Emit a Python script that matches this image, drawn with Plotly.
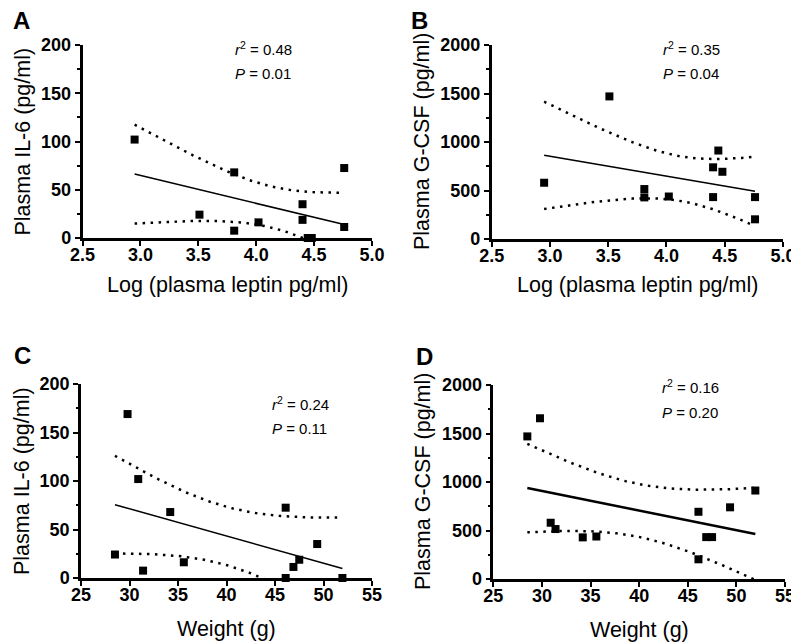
import numpy as np
import plotly.graph_objects as go

# ---- data (one entry per mouse) ----
weight_g = [28.5, 29.8, 30.9, 31.4, 34.2, 35.6, 46.1, 46.1, 46.9, 47.5, 49.35, 51.95]
log_leptin = [3.51, None, 2.95, 3.81, 3.81, 4.02, 4.76, 4.48, 4.76, 4.40, 4.40, 4.445]
il6_pg_ml = [24.2, 169, 102, 7.6, 68, 16.2, 72.5, 0, 11.4, 18.8, 35, 0]
gcsf_pg_ml = [1470, 1657, 580, 515, 429, 438, 203, 693, 432, 432, 739, 912]

panel_letters = ["A", "B", "C", "D"]
stats_r2 = ["0.48", "0.35", "0.24", "0.16"]
stats_p = ["0.01", "0.04", "0.11", "0.20"]
x_titles = ["Log (plasma leptin pg/ml)", "Log (plasma leptin pg/ml)", "Weight (g)", "Weight (g)"]
y_titles = ["Plasma IL-6 (pg/ml)", "Plasma G-CSF (pg/ml)", "Plasma IL-6 (pg/ml)", "Plasma G-CSF (pg/ml)"]
x_ticks_leptin = [2.5, 3.0, 3.5, 4.0, 4.5, 5.0]
x_ticks_weight = [25, 30, 35, 40, 45, 50, 55]
y_ticks_il6 = [0, 50, 100, 150, 200]
y_ticks_gcsf = [0, 500, 1000, 1500, 2000]

T975 = {9: 2.262157, 10: 2.228139}

OFF = 8  # page body margin
W, H = 799 - OFF, 642 - OFF
FONT = "Liberation Sans, Arial, Helvetica, sans-serif"


def px(x):
    return (x - OFF) / W


def py(y):
    return 1 - (y - OFF) / H


# plot areas in screen pixels: (x0, x1, ytop, ybottom)
boxes = [(82.5, 372, 45, 238), (491.7, 783, 45, 239), (81, 372, 384, 578), (493.3, 785, 385, 579)]


def fit_bands(x, y, n=80):
    x = np.asarray(x, float)
    y = np.asarray(y, float)
    k = len(x)
    xm, ym = x.mean(), y.mean()
    sxx = ((x - xm) ** 2).sum()
    b = ((x - xm) * (y - ym)).sum() / sxx
    a = ym - b * xm
    resid = y - (a + b * x)
    s = np.sqrt((resid ** 2).sum() / (k - 2))
    t = T975[k - 2]
    xs = np.linspace(x.min(), x.max(), n)
    yh = a + b * xs
    se = s * np.sqrt(1.0 / k + (xs - xm) ** 2 / sxx)
    return xs, yh, yh - t * se, yh + t * se


def pick(xv, yv):
    pts = [(a, b) for a, b in zip(xv, yv) if a is not None]
    return [p[0] for p in pts], [p[1] for p in pts]


panels = [
    pick(log_leptin, il6_pg_ml),
    pick(log_leptin, gcsf_pg_ml),
    pick(weight_g, il6_pg_ml),
    pick(weight_g, gcsf_pg_ml),
]
x_ranges = [[2.5, 5.0], [2.5, 5.0], [25, 55], [25, 55]]
y_ranges = [[0, 200], [0, 2000], [0, 200], [0, 2000]]
x_tickvals = [x_ticks_leptin, x_ticks_leptin, x_ticks_weight, x_ticks_weight]
y_tickvals = [y_ticks_il6, y_ticks_gcsf, y_ticks_il6, y_ticks_gcsf]
line_w = [1.5, 1.5, 1.5, 2.5]

fig = go.Figure()
annotations = []
layout_axes = {}
TICKFONT = dict(family=FONT, size=18, color="black", weight="bold")

for i in range(4):
    xs_, ys_ = panels[i]
    xa = "x" if i == 0 else f"x{i+1}"
    ya = "y" if i == 0 else f"y{i+1}"
    xr, yh, lo, hi = fit_bands(xs_, ys_)
    for band in (lo, hi):
        fig.add_trace(go.Scatter(x=xr, y=band, mode="lines", xaxis=xa, yaxis=ya,
                                 line=dict(color="black", width=2.5, dash="2.5px,5.5px"),
                                 hoverinfo="skip", showlegend=False))
    fig.add_trace(go.Scatter(x=xr, y=yh, mode="lines", xaxis=xa, yaxis=ya,
                             line=dict(color="black", width=line_w[i]),
                             hoverinfo="skip", showlegend=False))
    fig.add_trace(go.Scatter(x=xs_, y=ys_, mode="markers", xaxis=xa, yaxis=ya,
                             marker=dict(symbol="square", size=8, color="black"),
                             cliponaxis=False, showlegend=False))

    x0, x1, yt, yb = boxes[i]
    xkey = "xaxis" if i == 0 else f"xaxis{i+1}"
    ykey = "yaxis" if i == 0 else f"yaxis{i+1}"
    if i < 2:
        xlabels = [f"<b>{v:.1f}</b>" for v in x_tickvals[i]]
    else:
        xlabels = [f"<b>{v:d}</b>" for v in x_tickvals[i]]
    ylabels = [f"<b>{v:d}</b>" for v in y_tickvals[i]]
    ystep = y_tickvals[i][1] - y_tickvals[i][0]
    layout_axes[xkey] = dict(
        domain=[px(x0), px(x1)], anchor=ya, range=x_ranges[i],
        tickmode="array", tickvals=x_tickvals[i], ticktext=xlabels,
        showline=True, linecolor="black", linewidth=2.5, ticks="outside", ticklen=5,
        tickwidth=2, tickcolor="black", showgrid=False, zeroline=False,
        ticklabelstandoff=-6,
        tickfont=TICKFONT, automargin=False,
    )
    layout_axes[ykey] = dict(
        domain=[py(yb), py(yt)], anchor=xa, range=y_ranges[i],
        tickmode="array", tickvals=y_tickvals[i], ticktext=ylabels,
        showline=True, linecolor="black", linewidth=2.5, ticks="outside", ticklen=5,
        tickwidth=2, tickcolor="black", showgrid=False, zeroline=False,
        minor=dict(ticks="outside", ticklen=2.5, tickwidth=1.5, tickcolor="black", dtick=ystep / 2,
                   tick0=0, showgrid=False),
        tickfont=TICKFONT, automargin=False,
    )

    # panel letter
    letter_x = [11, 409, 12, 414][i]
    letter_y = [21, 21, 355, 356][i]
    annotations.append(dict(text=f"<b>{panel_letters[i]}</b>", x=px(letter_x), y=py(letter_y),
                            xref="paper", yref="paper", xanchor="left", yanchor="middle",
                            showarrow=False, font=dict(family=FONT, size=24, color="black")))
    # stats
    sx = [233, 661, 270, 660][i]
    sy = [48, 48, 403, 387][i]
    annotations.append(dict(text=f"<i>r</i><sup>2</sup> = {stats_r2[i]}", x=px(sx), y=py(sy),
                            xref="paper", yref="paper", xanchor="left", yanchor="middle",
                            showarrow=False, font=dict(family=FONT, size=15, color="black")))
    annotations.append(dict(text=f"<i>P</i> = {stats_p[i]}", x=px(sx), y=py(sy + 25),
                            xref="paper", yref="paper", xanchor="left", yanchor="middle",
                            showarrow=False, font=dict(family=FONT, size=15, color="black")))
    # axis titles
    ytx = [22, 422, 22, 423][i]
    annotations.append(dict(text=y_titles[i], x=px(ytx), y=py((yt + yb) / 2),
                            xref="paper", yref="paper", xanchor="center", yanchor="middle",
                            textangle=-90, showarrow=False,
                            font=dict(family=FONT, size=21.5, color="black")))
    xty = [285, 285, 629, 630][i]
    annotations.append(dict(text=x_titles[i], x=px((x0 + x1) / 2), y=py(xty),
                            xref="paper", yref="paper", xanchor="center", yanchor="middle",
                            showarrow=False, font=dict(family=FONT, size=21.5, color="black")))

fig.update_layout(
    width=W, height=H, margin=dict(l=0, r=0, t=0, b=0),
    paper_bgcolor="white", plot_bgcolor="white",
    annotations=annotations, showlegend=False,
    font=dict(family=FONT, color="black"),
    **layout_axes,
)

fig.write_html("out.html")
